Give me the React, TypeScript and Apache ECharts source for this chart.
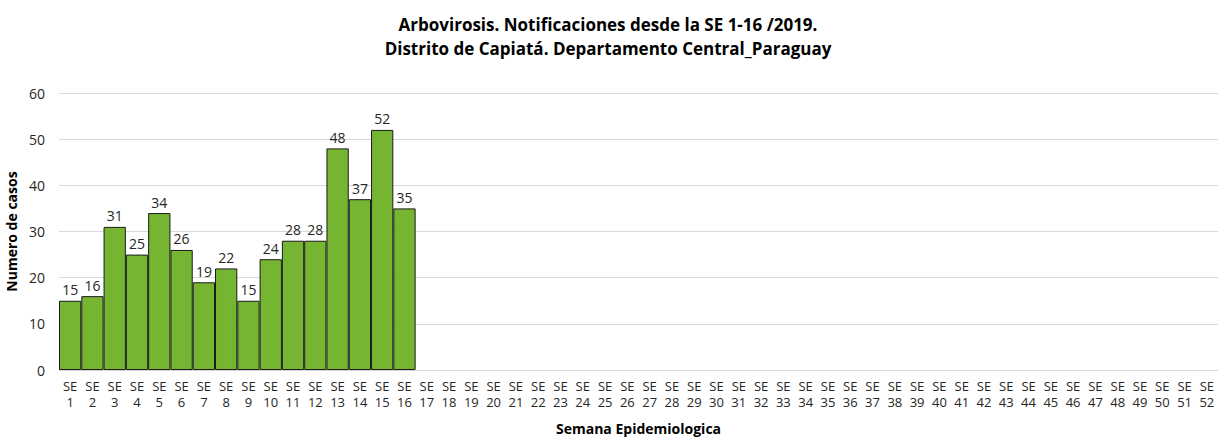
import React, { useEffect, useRef } from "react";
import * as echarts from "echarts";

const weeks: string[] = Array.from({ length: 52 }, (_, i) => `SE\n${i + 1}`);
const cases: (number | null)[] = [
  15, 16, 31, 25, 34, 26, 19, 22, 15, 24, 28, 28, 48, 37, 52, 35,
  null, null, null, null, null, null, null, null, null, null, null, null,
  null, null, null, null, null, null, null, null, null, null, null, null,
  null, null, null, null, null, null, null, null, null, null, null, null,
];
const titleLines: string[] = [
  "Arbovirosis. Notificaciones desde la SE 1-16 /2019.",
  "Distrito de Capiatá. Departamento Central_Paraguay",
];

const FONT = "'Open Sans', 'Noto Sans', sans-serif";
const TXT = "#262626";

export default function App() {
  const ref = useRef<HTMLDivElement>(null);
  useEffect(() => {
    document.body.style.margin = "0";
    if (!ref.current) return;
    const chart = echarts.init(ref.current, null, { renderer: "svg" });
    chart.setOption({
      animation: false,
      backgroundColor: "#ffffff",
      textStyle: { fontFamily: FONT },
      title: {
        text: titleLines.join("\n"),
        left: 603,
        textAlign: "center",
        top: 7,
        textStyle: {
          fontFamily: FONT,
          fontSize: 17,
          fontWeight: "bold",
          color: "#000000",
          lineHeight: 24,
        },
      },
      grid: {
        left: 59,
        right: 0,
        top: 93,
        bottom: 67,
        containLabel: false,
        outerBoundsMode: "none",
      },
      xAxis: {
        type: "category",
        data: weeks,
        axisTick: { show: false },
        axisLine: { show: true, lineStyle: { color: "#d9d9d9" } },
        axisLabel: {
          interval: 0,
          color: TXT,
          fontSize: 13,
          lineHeight: 16,
          margin: 8,
          fontFamily: FONT,
        },
        name: "Semana Epidemiologica",
        nameLocation: "middle",
        nameGap: 51,
        nameTextStyle: { fontWeight: "bold", fontSize: 14, color: "#000000", fontFamily: FONT },
      },
      yAxis: {
        type: "value",
        min: 0,
        max: 60,
        interval: 10,
        axisLine: { show: false },
        axisTick: { show: false },
        splitLine: { lineStyle: { color: "#d9d9d9" } },
        axisLabel: { color: TXT, fontSize: 14, margin: 14, fontFamily: FONT },
        name: "Numero de casos",
        nameLocation: "middle",
        nameGap: 32,
        nameTextStyle: { fontWeight: "bold", fontSize: 14, color: "#000000", fontFamily: FONT },
      },
      series: [
        {
          type: "bar",
          data: cases,
          barCategoryGap: "0%",
          itemStyle: { color: "#76b531", borderColor: "#1a1a1a", borderWidth: 1 },
          label: {
            show: true,
            position: "top",
            color: TXT,
            fontSize: 14,
            distance: 4,
            fontFamily: FONT,
          },
        },
      ],
    });
    return () => chart.dispose();
  }, []);
  return <div ref={ref} style={{ width: 1218, height: 437 }} />;
}
